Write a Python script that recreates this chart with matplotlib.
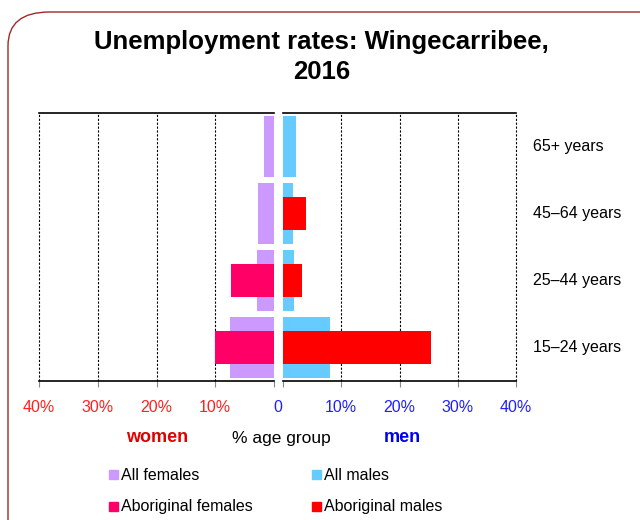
import matplotlib.pyplot as plt
from matplotlib.patches import FancyBboxPatch

plt.rcParams['font.family'] = ['Liberation Sans', 'DejaVu Sans']

# Data (% unemployed in each age group)
age_groups = ['15\u201324 years', '25\u201344 years', '45\u201364 years', '65+ years']
all_females = [7.5, 2.9, 2.8, 1.7]
aboriginal_females = [10.0, 7.4, 0.0, 0.0]
all_males = [8.1, 1.9, 1.7, 2.3]
aboriginal_males = [25.4, 3.3, 3.9, 0.0]

left_ticks = [40, 30, 20, 10]
right_ticks = [10, 20, 30, 40]

c_all_f = '#CC99FF'
c_abo_f = '#FF0066'
c_all_m = '#66CCFF'
c_abo_m = '#FF0000'

fig = plt.figure(figsize=(6.4, 5.2), dpi=100)

# rounded border
border = FancyBboxPatch((8 / 640, -0.2), 1.2, 1.2 - 12 / 520,
                        boxstyle='round,pad=0,rounding_size=0.065',
                        transform=fig.transFigure, fill=False,
                        edgecolor='#A02828', linewidth=1.0)
fig.patches.append(border)

fig.text(0.502, 1 - 57 / 520, 'Unemployment rates: Wingecarribee,\n2016', ha='center',
         va='center', fontsize=18.5, fontweight='bold', linespacing=1.35)

bottom = 1 - 381 / 520
height = (381 - 113) / 520
ax_f = fig.add_axes([39 / 640, bottom, (274 - 39) / 640, height])
ax_m = fig.add_axes([283 / 640, bottom, (516 - 283) / 640, height])

y = list(range(len(age_groups)))

ax_f.barh(y, all_females, height=0.92, color=c_all_f, zorder=2)
ax_f.barh(y, aboriginal_females, height=0.5, color=c_abo_f, zorder=3)
ax_m.barh(y, all_males, height=0.92, color=c_all_m, zorder=2)
ax_m.barh(y, aboriginal_males, height=0.5, color=c_abo_m, zorder=3)

ax_f.set_xlim(40, 0)
ax_m.set_xlim(0, 40)

for ax, ticks, col in [(ax_f, left_ticks, '#FF2020'), (ax_m, right_ticks, '#2020FF')]:
    ax.set_ylim(-0.5, len(age_groups) - 0.5)
    ax.set_yticks([])
    for s in ['left', 'right']:
        ax.spines[s].set_visible(False)
    ax.spines['top'].set_linewidth(1.2)
    ax.spines['bottom'].set_linewidth(1.2)
    for t in ticks:
        ax.axvline(t, color='black', linestyle=(0, (2, 1.5)), linewidth=0.8,
                   zorder=1, clip_on=False)
    ax.set_xticks([0] + ticks)
    ax.set_xticklabels([''] + ['%d%%' % t for t in ticks], color=col, fontsize=11.5)
    ax.tick_params(axis='x', length=4, color='#888888', pad=10)

fig.text(278 / 640, 1 - 408 / 520, '0', color='#2020FF', fontsize=11.5,
         ha='center', va='center')

for yi, lab in zip(y, age_groups):
    ax_m.text(43, yi, lab, fontsize=11.5, va='center', ha='left')

fig.text(157 / 640, 1 - 438 / 520, 'women', color='#E00000', fontsize=13,
         fontweight='bold', ha='center', va='center')
fig.text(281 / 640, 1 - 438 / 520, '% age group', color='black', fontsize=12.5,
         ha='center', va='center')
fig.text(402 / 640, 1 - 438 / 520, 'men', color='#0000EE', fontsize=13,
         fontweight='bold', ha='center', va='center')

legend_items = [
    (c_all_f, 'All females', 113, 475),
    (c_all_m, 'All males', 316, 475),
    (c_abo_f, 'Aboriginal females', 113, 507),
    (c_abo_m, 'Aboriginal males', 316, 507),
]
for col, lab, px, py in legend_items:
    fig.patches.append(plt.Rectangle(((px - 4) / 640, 1 - (py + 4) / 520), 9 / 640, 9 / 520,
                                     transform=fig.transFigure, color=col))
    fig.text((px + 8) / 640, 1 - py / 520, lab, fontsize=11.5, va='center', ha='left')

fig.savefig('out.png', dpi=100)
